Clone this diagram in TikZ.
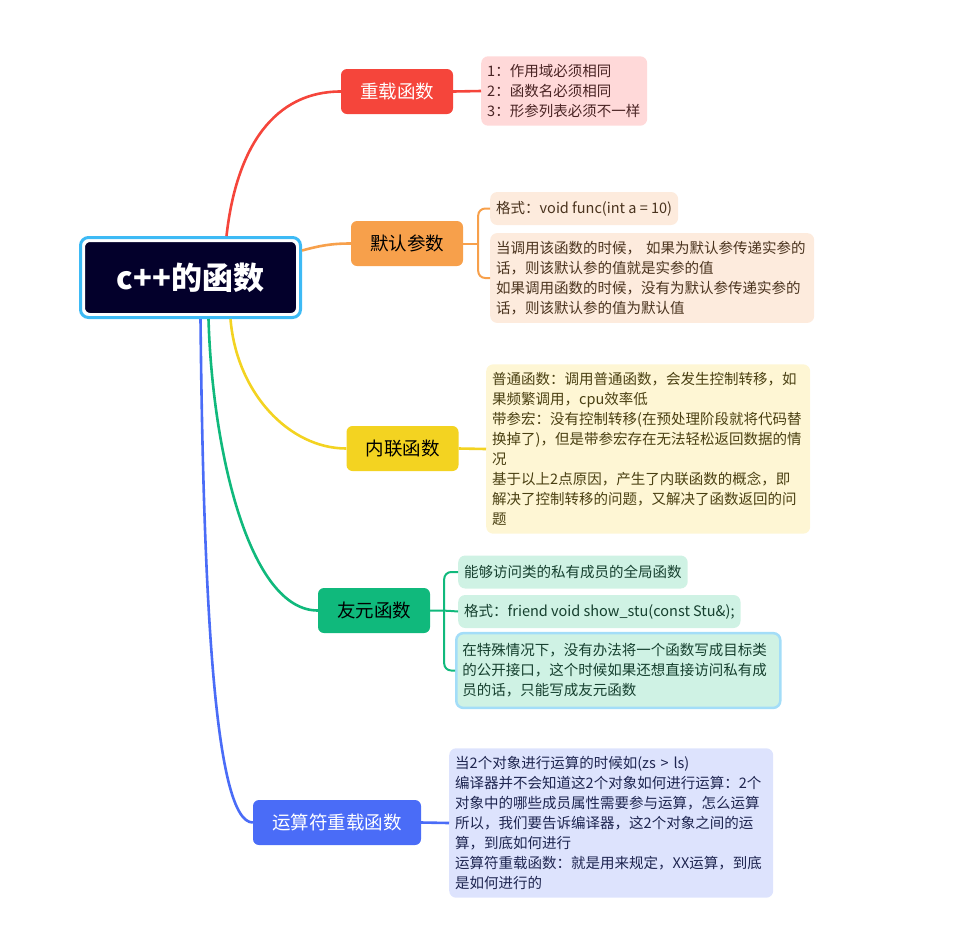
\documentclass[tikz,border=0pt]{standalone}
\usepackage{fontspec}
\setmainfont{Noto Sans CJK SC}
\usetikzlibrary{positioning, fit}

\definecolor{rootdark}{HTML}{03002B}
\definecolor{rootblue}{HTML}{3DBAF5}
\definecolor{selblue}{HTML}{A3DDF8}
\definecolor{redc}{HTML}{F5453B}
\definecolor{orangec}{HTML}{F7A04B}
\definecolor{yellowc}{HTML}{F3D321}
\definecolor{greenc}{HTML}{10B97C}
\definecolor{bluec}{HTML}{4A6CF7}
\definecolor{redn}{HTML}{FFD9D9}
\definecolor{orangen}{HTML}{FDEBDD}
\definecolor{yellown}{HTML}{FEF6D4}
\definecolor{greenn}{HTML}{CFF2E4}
\definecolor{bluen}{HTML}{DDE3FD}
\definecolor{redt}{HTML}{4A2424}
\definecolor{oranget}{HTML}{4A331E}
\definecolor{yellowt}{HTML}{4A4012}
\definecolor{greent}{HTML}{16402F}
\definecolor{bluet}{HTML}{1E2550}

\tikzset{
  topic/.style={rounded corners=6pt, minimum width=112pt, minimum height=45pt,
    inner sep=0pt, font=\fontsize{18.5}{22}\selectfont},
  note/.style={rounded corners=7pt, anchor=west, align=left, inner xsep=6pt,
    inner ysep=8pt, minimum height=33pt, font=\fontsize{14.5}{20}\selectfont},
  wide/.style={text width=312pt},
  link/.style={line width=2.6pt},
  sublink/.style={line width=2pt, rounded corners=7pt},
}

\begin{document}
\begin{tikzpicture}[x=1pt,y=1pt]
  \useasboundingbox (0,0) rectangle (979,-946);
  % root
  \node[fill=rootdark, draw=white, line width=2pt, rounded corners=6pt, minimum width=213pt,
    minimum height=73pt, text=white, font=\fontsize{31}{35}\selectfont\bfseries] (root) at (190.5,-277.5) {c++的函数};
  \node[fit=(root), draw=rootblue, line width=3pt, rounded corners=8pt, inner sep=2.5pt] (rootframe) {};

  % topics
  \node[topic, fill=redc, text=white] (reload) at (397,-91.5) {重载函数};
  \node[topic, fill=orangec] (defarg) at (407,-243.5) {默认参数};
  \node[topic, fill=yellowc] (inl) at (402.5,-448.5) {内联函数};
  \node[topic, fill=greenc] (friend) at (374,-610.5) {友元函数};
  \node[topic, fill=bluec, text=white, minimum width=168pt] (opov) at (337,-822.5) {运算符重载函数};

  % notes
  \node[note, fill=redn, text=redt, text width=154pt] (reloadNote) at (481,-91)
    {1：作用域必须相同\\2：函数名必须相同\\3：形参列表必须不一样};
  \node[note, fill=orangen, text=oranget] (defargFmt) at (490,-208.5) {格式：void func(int a = 10)};
  \node[note, wide, fill=orangen, text=oranget] (defargNote) at (490,-278)
    {当调用该函数的时候， 如果为默认参传递实参的\\话，则该默认参的值就是实参的值\\%
     如果调用函数的时候，没有为默认参传递实参的\\话，则该默认参的值为默认值};
  \node[note, wide, fill=yellown, text=yellowt] (inlNote) at (486,-449)
    {普通函数：调用普通函数，会发生控制转移，如\\果频繁调用，cpu效率低\\%
     带参宏：没有控制转移(在预处理阶段就将代码替\\换掉了)，但是带参宏存在无法轻松返回数据的情\\况\\%
     基于以上2点原因，产生了内联函数的概念，即\\解决了控制转移的问题，又解决了函数返回的问\\题};
  \node[note, fill=greenn, text=greent] (friendDesc) at (458,-572) {能够访问类的私有成员的全局函数};
  \node[note, fill=greenn, text=greent] (friendFmt) at (458,-611.5) {格式：friend void show\_stu(const Stu\&);};
  \node[note, wide, fill=greenn, text=greent, draw=selblue, line width=2.5pt,
    inner ysep=10.5pt] (friendNote) at (455,-670.5)
    {在特殊情况下，没有办法将一个函数写成目标类\\的公开接口，这个时候如果还想直接访问私有成\\员的话，只能写成友元函数};
  \node[note, wide, fill=bluen, text=bluet] (opovNote) at (449,-823)
    {当2个对象进行运算的时候如(zs > ls)\\编译器并不会知道这2个对象如何进行运算：2个\\%
     对象中的哪些成员属性需要参与运算，怎么运算\\所以，我们要告诉编译器，这2个对象之间的运\\%
     算，到底如何进行\\运算符重载函数：就是用来规定，XX运算，到底\\是如何进行的};

  % connectors
  \draw[link, redc] ([xshift=36pt]rootframe.north) .. controls +(10,90) and +(-66,0) .. (reload.west);
  \draw[link, redc] (reload.east) -- (reloadNote.west);

  \draw[link, orangec] ([yshift=27pt]rootframe.east) to[out=15, in=180] (defarg.west);
  \coordinate[right=15pt of defarg.east] (defargFork);
  \draw[sublink, orangec] (defarg.east) -- (defargFork);
  \draw[sublink, orangec] (defargFmt.west) -| (defargFork) |- (defargNote.west);

  \draw[link, yellowc] ([xshift=40pt]rootframe.south) .. controls +(6,-74) and +(-57,0) .. (inl.west);
  \draw[link, yellowc] (inl.east) -- (inlNote.west);

  \draw[link, greenc] ([xshift=18pt]rootframe.south) .. controls +(4,-134) and +(-68,0) .. (friend.west);
  \coordinate[right=14pt of friend.east] (friendFork);
  \draw[sublink, greenc] (friend.east) -- (friendFork) -- (friendFmt.west);
  \draw[sublink, greenc] (friendDesc.west) -| (friendFork) |- (friendNote.west);

  \draw[link, bluec] ([xshift=10pt]rootframe.south) .. controls +(3,-284) and +(-38,0) .. (opov.west);
  \draw[link, bluec] (opov.east) -- (opovNote.west);
\end{tikzpicture}
\end{document}
